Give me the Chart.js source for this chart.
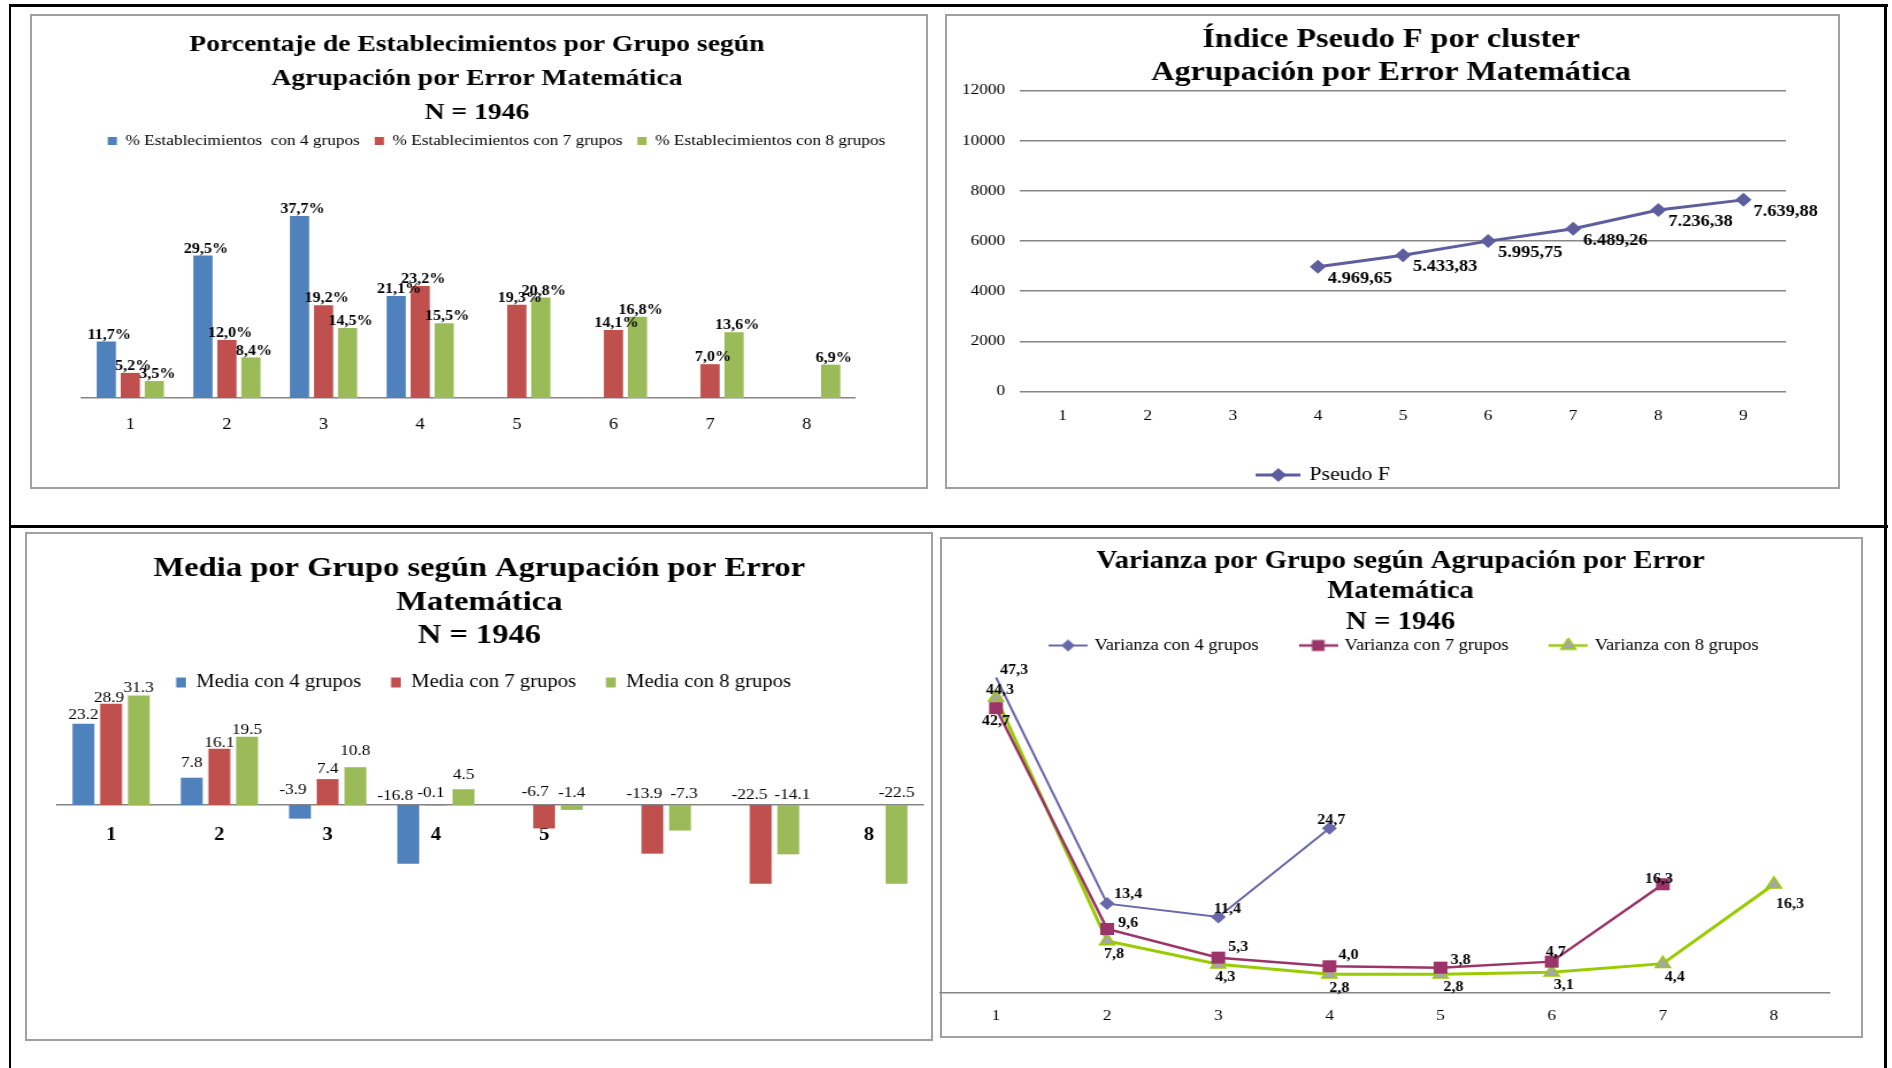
<!DOCTYPE html>
<html lang="es">
<head>
<meta charset="utf-8">
<title>Agrupación por Error Matemática</title>
<script src="https://cdn.jsdelivr.net/npm/chart.js@4.4.1/dist/chart.umd.min.js"></script>
<style>
  html, body { margin: 0; padding: 0; background: #fff; }
  body { width: 1892px; height: 1068px; position: relative; overflow: hidden; }
  .rule { position: absolute; background: #000; }
  .panel { position: absolute; box-sizing: border-box; border: 2px solid #a0a0a0; background: #fff; }
  canvas.chart { position: absolute; transform-origin: 0 0; }
</style>
</head>
<body>
<div class="rule" style="left:9px;top:4px;width:1879px;height:3px"></div>
<div class="rule" style="left:9px;top:4px;width:2px;height:1064px"></div>
<div class="rule" style="left:1884px;top:4px;width:3px;height:1064px"></div>
<div class="rule" style="left:9px;top:525px;width:1879px;height:3px"></div>

<script>
// ---------------- data ----------------
const grupos = ['1', '2', '3', '4', '5', '6', '7', '8'];
const clusters = ['1', '2', '3', '4', '5', '6', '7', '8', '9'];

// % de establecimientos por grupo
const pctCon4 = [11.7, 29.5, 37.7, 21.1, null, null, null, null];
const pctCon7 = [5.2, 12.0, 19.2, 23.2, 19.3, 14.1, 7.0, null];
const pctCon8 = [3.5, 8.4, 14.5, 15.5, 20.8, 16.8, 13.6, 6.9];

// Pseudo F por número de clusters
const pseudoF = [null, null, null, 4969.65, 5433.83, 5995.75, 6489.26, 7236.38, 7639.88];
const pseudoFMin = 0;
const pseudoFMax = 12000;
const pseudoFStep = 2000;

// Media por grupo
const mediaCon4 = [23.2, 7.8, -3.9, -16.8, null, null, null, null];
const mediaCon7 = [28.9, 16.1, 7.4, -0.1, -6.7, -13.9, -22.5, null];
const mediaCon8 = [31.3, 19.5, 10.8, 4.5, -1.4, -7.3, -14.1, -22.5];

// Varianza por grupo
const varCon4 = [47.3, 13.4, 11.4, 24.7, null, null, null, null];
const varCon7 = [42.7, 9.6, 5.3, 4.0, 3.8, 4.7, 16.3, null];
const varCon8 = [44.3, 7.8, 4.3, 2.8, 2.8, 3.1, 4.4, 16.3];

// ---------------- look ----------------
const S = 1.15;                 // horizontal stretch of every chart canvas
const ix = v => v / S;          // page px -> canvas px (horizontal)
const SERIF = "'Liberation Serif', 'Times New Roman', serif";
const BLUE = '#4F81BD', RED = '#C0504D', GREEN = '#9BBB59';
const AXIS = '#868686';
const PF_LINE = '#5E5E9E';
const V4 = '#6767AB', V7 = '#9B3468', V8 = '#99CC00', V8_MARK = '#A6A6A6';

Chart.defaults.font.family = SERIF;
Chart.defaults.color = '#000';

// where each chart sits on the page
const PANELS = {
  pct:   { x: 30,  y: 14,  w: 898, h: 475 },
  pf:    { x: 945, y: 14,  w: 895, h: 475 },
  media: { x: 25,  y: 532, w: 908, h: 509 },
  varz:  { x: 940, y: 537, w: 923, h: 501 }
};
const VAR_BLEED = 11.5;   // the variance canvas starts a little left of its frame

// label nudges [dx, dy] (page px) for the mean bars, one row per series
const mediaLabelOffsets = [
  [[0, -9], [0, -15], [-7, -15], [-13, -9]],
  [[-2, -6], [0, -6], [0, -10], [-5, -12], [-9, -13], [-8, -11], [-11, -10]],
  [[0, -7], [0, -7], [0, -16], [0, -14], [0, -12], [4, -11], [4, -10], [0, -12]]
];
// label nudges (page px) for the variance lines, one row per series
const varLabelOffsets = [
  [[18, -7], [21, -9], [9, -8], [2, -8]],
  [[0, 13], [21, -6], [20, -10], [19, -11], [20, -7], [4, -9], [-4, -5]],
  [[4, -7], [7, 13], [7, 13], [10, 14], [13, 13], [12, 13], [12, 14], [16, 20]]
];

function mountPanel(rect, bleed) {
  bleed = bleed || 0;
  const box = document.createElement('div');
  box.className = 'panel';
  Object.assign(box.style, { left: rect.x + 'px', top: rect.y + 'px', width: rect.w + 'px', height: rect.h + 'px' });
  document.body.appendChild(box);
  const cv = document.createElement('canvas');
  cv.className = 'chart';
  const fullW = rect.w + bleed;
  const w = Math.round(fullW / S);
  cv.width = w;
  cv.height = rect.h;
  Object.assign(cv.style, {
    left: (rect.x - bleed) + 'px', top: rect.y + 'px', width: w + 'px', height: rect.h + 'px',
    transform: 'scaleX(' + (fullW / w) + ')'
  });
  document.body.appendChild(cv);
  return cv;
}

// Spanish number format: 7.639,88
function fmtES(v, dec) {
  const parts = Math.abs(v).toFixed(dec).split('.');
  const int = parts[0].replace(/\B(?=(\d{3})+(?!\d))/g, '.');
  return (v < 0 ? '-' : '') + int + (parts[1] ? ',' + parts[1] : '');
}

// ---------------- plugins ----------------
// Fixes the value scale (zero line + px per unit) and places title / legend.
const placement = {
  id: 'placement',
  afterLayout(chart, args, o) {
    if (o.zeroY !== undefined) {
      const y = chart.scales.y;
      y.max = (o.zeroY - y.top) / o.unitPx;
      y.min = (o.zeroY - y.bottom) / o.unitPx;
      y.configure();
    }
    const t = chart.titleBlock;
    if (o.title && t) {
      const half = (t.right - t.left) / 2, cx = ix(o.title.x), h = t.bottom - t.top;
      t.left = cx - half; t.right = cx + half;
      t.top = o.title.y - o.title.lh / 2; t.bottom = t.top + h;
    }
    const lg = chart.legend;
    if (o.legend && lg) {
      const shift = ix(o.legend.x) - (lg.left + lg.right) / 2, h = lg.bottom - lg.top;
      lg.left += shift; lg.right += shift;
      lg.top = o.legend.y - lg.options.labels.padding - o.legend.itemHeight / 2;
      lg.bottom = lg.top + h;
    }
  }
};

// Writes each point's value next to its mark.
const valueLabels = {
  id: 'valueLabels',
  afterDatasetsDraw(chart, args, o) {
    const ctx = chart.ctx;
    ctx.save();
    ctx.font = o.font;
    ctx.fillStyle = '#000';
    ctx.textBaseline = 'middle';
    chart.data.datasets.forEach((ds, di) => {
      chart.getDatasetMeta(di).data.forEach((el, i) => {
        const v = ds.data[i];
        if (v === null || v === undefined) return;
        const p = o.place(v, di, i, el);
        ctx.textAlign = p.align || 'center';
        ctx.fillText(o.format(v), p.x, p.y);
      });
    });
    ctx.restore();
  }
};

// legend swatch: short line with the series marker in the middle
function lineIcon(w, h, color, lw, marker) {
  const c = document.createElement('canvas');
  c.width = w; c.height = h;
  const g = c.getContext('2d');
  g.strokeStyle = color; g.lineWidth = lw;
  g.beginPath(); g.moveTo(0, h / 2); g.lineTo(w, h / 2); g.stroke();
  marker(g, w / 2, h / 2);
  return c;
}
const diamond = (r, fill) => (g, x, y) => {
  g.fillStyle = fill; g.beginPath();
  g.moveTo(x - r, y); g.lineTo(x, y - r); g.lineTo(x + r, y); g.lineTo(x, y + r); g.closePath(); g.fill();
};
const square = (s, fill) => (g, x, y) => { g.fillStyle = fill; g.fillRect(x - s / 2, y - s / 2, s, s); };
const triangle = (r, fill, stroke) => (g, x, y) => {
  g.fillStyle = fill; g.strokeStyle = stroke; g.lineWidth = 1.5; g.beginPath();
  g.moveTo(x, y - r); g.lineTo(x + r * 0.866, y + r / 2); g.lineTo(x - r * 0.866, y + r / 2); g.closePath();
  g.fill(); g.stroke();
};

const baseOpts = {
  responsive: false,
  maintainAspectRatio: false,
  animation: false,
  events: [],
  devicePixelRatio: 1
};
const hiddenY = w => ({
  display: true,
  ticks: { display: false },
  grid: { display: false, drawTicks: false },
  border: { display: false },
  afterFit: s => { s.width = w; }
});

// ---------------- 1: porcentaje de establecimientos ----------------
new Chart(mountPanel(PANELS.pct), {
  type: 'bar',
  data: {
    labels: grupos,
    datasets: [
      { label: '% Establecimientos  con 4 grupos', data: pctCon4, backgroundColor: BLUE },
      { label: '% Establecimientos con 7 grupos', data: pctCon7, backgroundColor: RED },
      { label: '% Establecimientos con 8 grupos', data: pctCon8, backgroundColor: GREEN }
    ]
  },
  options: Object.assign({}, baseOpts, {
    layout: { padding: { left: 0, right: ix(73), top: 0, bottom: 40 } },
    datasets: { bar: { categoryPercentage: 0.745, barPercentage: 0.8, borderWidth: 0, clip: false } },
    scales: {
      x: {
        position: { y: 0 },
        grid: { display: false, drawTicks: false },
        border: { display: true, color: AXIS, width: 1.5 },
        ticks: { font: { size: 16 }, color: '#000', padding: 17 }
      },
      y: hiddenY(ix(52))
    },
    plugins: {
      title: {
        display: true,
        text: ['Porcentaje de Establecimientos por Grupo según', 'Agrupación por Error Matemática', 'N = 1946'],
        font: { size: 24, weight: 'bold', lineHeight: '34px' },
        color: '#000', padding: 0
      },
      legend: {
        position: 'top',
        labels: { boxWidth: 8, boxHeight: 8, padding: 13, font: { size: 15 }, color: '#000' }
      },
      tooltip: { enabled: false },
      placement: { zeroY: 384, unitPx: 4.83, title: { x: 447, y: 30.5, lh: 34 }, legend: { x: 466.5, y: 127, itemHeight: 15 } },
      valueLabels: {
        font: 'bold 14px ' + SERIF,
        format: v => fmtES(v, 1) + '%',
        place: (v, di, i, el) => ({ x: el.x + ix(3), y: el.y - 6.5 })
      }
    }
  }),
  plugins: [placement, valueLabels]
});

// ---------------- 2: índice pseudo F ----------------
const pfIcon = lineIcon(39, 16, PF_LINE, 3, diamond(7, PF_LINE));
new Chart(mountPanel(PANELS.pf), {
  type: 'line',
  data: {
    labels: clusters,
    datasets: [{
      label: 'Pseudo F', data: pseudoF,
      borderColor: PF_LINE, borderWidth: 3, backgroundColor: PF_LINE,
      pointStyle: 'rectRot', pointRadius: 7, pointBackgroundColor: PF_LINE, pointBorderWidth: 0,
      clip: false, tension: 0
    }]
  },
  options: Object.assign({}, baseOpts, {
    layout: { padding: { left: 0, right: ix(54), top: 0, bottom: 40 } },
    scales: {
      x: {
        offset: true,
        position: { y: 0 },
        grid: { display: false, drawTicks: false },
        border: { display: false },
        ticks: { font: { size: 15 }, color: '#000', padding: 15.5 }
      },
      y: {
        min: pseudoFMin, max: pseudoFMax,
        ticks: { stepSize: pseudoFStep, font: { size: 15 }, color: '#000', padding: ix(15), callback: v => String(v) },
        grid: { color: AXIS, lineWidth: 1.5, drawTicks: false },
        border: { display: false },
        afterFit: s => { s.width = ix(75); }
      }
    },
    plugins: {
      title: {
        display: true,
        text: ['Índice Pseudo F por cluster', 'Agrupación por Error Matemática'],
        font: { size: 28, weight: 'bold', lineHeight: '32.6px' },
        color: '#000', padding: 0
      },
      legend: {
        position: 'bottom',
        labels: {
          usePointStyle: true, pointStyleWidth: 35, boxHeight: 16, padding: 10,
          font: { size: 19 }, color: '#000',
          generateLabels(chart) {
            const items = Chart.defaults.plugins.legend.labels.generateLabels(chart);
            items.forEach(it => { it.pointStyle = pfIcon; });
            return items;
          }
        }
      },
      tooltip: { enabled: false },
      placement: {
        zeroY: 377.5, unitPx: 301 / 12000,
        title: { x: 446, y: 26, lh: 32.6 }, legend: { x: 379, y: 461, itemHeight: 19 }
      },
      valueLabels: {
        font: 'bold 16px ' + SERIF,
        format: v => fmtES(v, 2),
        place: (v, di, i, el) => ({ x: el.x + ix(10), y: el.y + 12, align: 'left' })
      }
    }
  }),
  plugins: [placement, valueLabels]
});

// ---------------- 3: media por grupo ----------------
new Chart(mountPanel(PANELS.media), {
  type: 'bar',
  data: {
    labels: grupos,
    datasets: [
      { label: 'Media con 4 grupos', data: mediaCon4, backgroundColor: BLUE },
      { label: 'Media con 7 grupos', data: mediaCon7, backgroundColor: RED },
      { label: 'Media con 8 grupos', data: mediaCon8, backgroundColor: GREEN }
    ]
  },
  options: Object.assign({}, baseOpts, {
    layout: { padding: { left: 0, right: ix(10), top: 0, bottom: 40 } },
    datasets: { bar: { categoryPercentage: 0.767, barPercentage: 0.79, borderWidth: 0, clip: false } },
    scales: {
      x: {
        position: { y: 0 },
        z: 1,
        grid: { display: false, drawTicks: false },
        border: { display: true, color: AXIS, width: 1.5 },
        ticks: { font: { size: 18, weight: 'bold' }, color: '#000', padding: 19.5 }
      },
      y: hiddenY(ix(32))
    },
    plugins: {
      title: {
        display: true,
        text: ['Media por Grupo según Agrupación por Error', 'Matemática', 'N = 1946'],
        font: { size: 28.3, weight: 'bold', lineHeight: '33.7px' },
        color: '#000', padding: 0
      },
      legend: {
        position: 'top',
        labels: { boxWidth: 8.5, boxHeight: 10, padding: 26, font: { size: 18 }, color: '#000' }
      },
      tooltip: { enabled: false },
      placement: { zeroY: 273, unitPx: 3.5, title: { x: 454.6, y: 36.5, lh: 33.7 }, legend: { x: 458.8, y: 150.5, itemHeight: 18 } },
      valueLabels: {
        font: '15px ' + SERIF,
        format: v => v.toFixed(1),
        place: (v, di, i, el) => {
          const off = mediaLabelOffsets[di][i];
          return { x: el.x + ix(off[0]), y: (v >= 0 ? el.y : el.base) + off[1] };
        }
      }
    }
  }),
  plugins: [placement, valueLabels]
});

// ---------------- 4: varianza por grupo ----------------
const varIcons = [
  lineIcon(34, 16, V4, 2, diamond(6, V4)),
  lineIcon(34, 16, V7, 2.5, square(11, V7)),
  lineIcon(34, 16, V8, 2.5, triangle(7.5, V8_MARK, V8))
];
new Chart(mountPanel(PANELS.varz, VAR_BLEED), {
  type: 'line',
  data: {
    labels: grupos,
    datasets: [
      {
        label: 'Varianza con 4 grupos', data: varCon4, borderColor: V4, borderWidth: 2, backgroundColor: V4,
        pointStyle: 'rectRot', pointRadius: 6.5, pointBackgroundColor: V4, pointBorderWidth: 0
      },
      {
        label: 'Varianza con 7 grupos', data: varCon7, borderColor: V7, borderWidth: 2.5, backgroundColor: V7,
        pointStyle: 'rect', pointRadius: 8.5, pointBackgroundColor: V7, pointBorderWidth: 0
      },
      {
        label: 'Varianza con 8 grupos', data: varCon8, borderColor: V8, borderWidth: 3, backgroundColor: V8_MARK,
        pointStyle: 'triangle', pointRadius: 7.5, pointBackgroundColor: V8_MARK, pointBorderColor: V8, pointBorderWidth: 1.5
      }
    ].map(d => Object.assign(d, { clip: false, tension: 0 }))
  },
  options: Object.assign({}, baseOpts, {
    layout: { padding: { left: ix(VAR_BLEED), right: ix(34), top: 0, bottom: 20 } },
    scales: {
      x: {
        offset: true,
        position: { y: 0 },
        grid: { display: false, drawTicks: false },
        border: { display: true, color: AXIS, width: 1.5 },
        ticks: { font: { size: 15 }, color: '#000', padding: 14.5 }
      },
      y: { display: false }
    },
    plugins: {
      title: {
        display: true,
        text: ['Varianza por Grupo según Agrupación por Error', 'Matemática', 'N = 1946'],
        font: { size: 25, weight: 'bold', lineHeight: '30.3px' },
        color: '#000', padding: 0
      },
      legend: {
        position: 'top',
        labels: {
          usePointStyle: true, pointStyleWidth: 30, boxHeight: 14, padding: 37,
          font: { size: 16 }, color: '#000',
          generateLabels(chart) {
            const items = Chart.defaults.plugins.legend.labels.generateLabels(chart);
            items.forEach((it, i) => { it.pointStyle = varIcons[i]; });
            return items;
          }
        }
      },
      tooltip: { enabled: false },
      placement: {
        zeroY: 456, unitPx: 6.67,
        title: { x: 460.3 + VAR_BLEED, y: 24.5, lh: 30.3 },
        legend: { x: 464.5 + VAR_BLEED, y: 108.5, itemHeight: 16 }
      },
      valueLabels: {
        font: 'bold 14px ' + SERIF,
        format: v => fmtES(v, 1),
        place: (v, di, i, el) => {
          const off = varLabelOffsets[di][i];
          return { x: el.x + ix(off[0]), y: el.y + off[1] };
        }
      }
    }
  }),
  plugins: [placement, valueLabels]
});
</script>
</body>
</html>
